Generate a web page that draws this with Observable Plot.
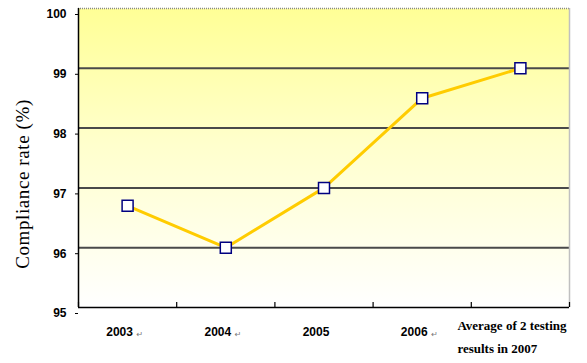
<!DOCTYPE html>
<html>
<head>
<meta charset="utf-8">
<script src="https://cdn.jsdelivr.net/npm/d3@7"></script>
<script src="https://cdn.jsdelivr.net/npm/@observablehq/plot@0.6"></script>
<style>
  html, body { margin: 0; padding: 0; background: #fff; }
</style>
</head>
<body>
<div id="chart"></div>
<script>
const categories = ["2003", "2004", "2005", "2006", "Average of 2 testing\nresults in 2007"];
const values = [96.7, 96.0, 97.0, 98.5, 99.0];
const returnMark = [true, true, false, true, false];
const yTicks = [95, 96, 97, 98, 99, 100];
const gridValues = [96, 97, 98, 99];
const yTitle = "Compliance rate (%)";

const rows = categories.map((c, i) => ({cat: c, pos: i + 0.5, value: values[i], mark: returnMark[i], last: i === categories.length - 1}));
const boundaries = d3.range(0, categories.length + 1);

const svg = Plot.plot({
  width: 587,
  height: 363,
  marginLeft: 78,
  marginRight: 18,
  marginTop: 8,
  marginBottom: 56,
  style: {background: "white", overflow: "visible"},
  x: {domain: [0, categories.length], axis: null},
  y: {domain: [95, 100], axis: null},
  marks: [
    Plot.frame({fill: "url(#bgGrad)", stroke: "none"}),
    Plot.ruleY(gridValues, {stroke: "#4a4a4a", strokeWidth: 2}),
    Plot.ruleY([100], {stroke: "#888", strokeDasharray: "1,1", strokeWidth: 1.5}),
    Plot.ruleX([categories.length], {stroke: "#c0c0c0", strokeWidth: 1.5}),
    Plot.ruleX(boundaries, {insetTop: 294, stroke: "#000", strokeWidth: 1.2}),
    Plot.ruleY([95], {stroke: "#000", strokeWidth: 1.5}),
    Plot.ruleX([0], {stroke: "#000", strokeWidth: 1.5}),
    Plot.axisY({
      ticks: yTicks, tickSize: 3, tickPadding: 9, tickFormat: d => String(d),
      fontFamily: "Arial, 'Liberation Sans', sans-serif", fontWeight: "bold", fontSize: 12,
      dy: 6, label: null, stroke: "#000"
    }),
    Plot.line(rows, {x: "pos", y: "value", stroke: "#FFCC00", strokeWidth: 3}),
    Plot.dot(rows, {x: "pos", y: "value", symbol: "square", r: 6.2, fill: "white", stroke: "#000080", strokeWidth: 1.5}),
    Plot.text(rows.filter(d => !d.last), {
      x: "pos", y: () => 95, text: "cat", dy: 25, dx: -8,
      fontFamily: "Arial, 'Liberation Sans', sans-serif", fontWeight: "bold", fontSize: 12, fill: "#000"
    }),
    Plot.text(rows.filter(d => d.mark), {
      x: "pos", y: () => 95, text: () => "↵", dy: 27, dx: 9, textAnchor: "start",
      fontFamily: "'DejaVu Sans', sans-serif", fontSize: 8, fill: "#777"
    }),
    Plot.text(rows.filter(d => d.last), {
      x: "pos", y: () => 95, text: "cat", dy: 27, dx: -63, textAnchor: "start", lineHeight: 1.77,
      fontFamily: "'Times New Roman', 'Liberation Serif', serif", fontWeight: "bold", fontSize: 13, fill: "#000"
    }),
    Plot.text([yTitle], {
      frameAnchor: "left", text: d => d, rotate: -90, dx: -56, dy: 26, textAnchor: "middle",
      fontFamily: "'Times New Roman', 'Liberation Serif', serif", fontSize: 19, fill: "#000"
    })
  ]
});

d3.select(svg).insert("defs", ":first-child").html(
  `<linearGradient id="bgGrad" x1="0" y1="0" x2="0" y2="1">
     <stop offset="0%" stop-color="#FFFF96"/>
     <stop offset="45%" stop-color="#FFFFCC"/>
     <stop offset="100%" stop-color="#FFFFFF"/>
   </linearGradient>`
);
d3.select(svg).selectAll("text").filter(function () { return this.textContent === yTitle; })
  .attr("letter-spacing", "0.6");

document.getElementById("chart").appendChild(svg);
</script>
</body>
</html>
